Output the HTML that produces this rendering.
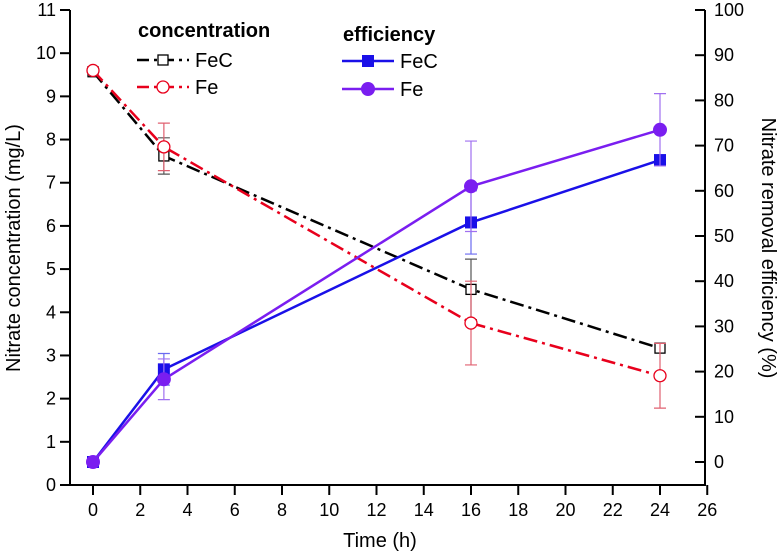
<!DOCTYPE html>
<html><head><meta charset="utf-8"><style>
html,body{margin:0;padding:0;background:#fff;}
svg{display:block;font-family:"Liberation Sans",Arial,sans-serif;}
</style></head><body>
<svg id="chart" width="782" height="558" viewBox="0 0 782 558">
<g id="axes"></g>
<g id="series"></g>
<g id="legend"></g>
</svg>
<script>
const times = [0, 3, 16, 24];
const concFeC = [9.57, 7.62, 4.53, 3.17];
const concFeCErr = [0.05, 0.42, 0.7, 0.05];
const concFe = [9.6, 7.83, 3.75, 2.53];
const concFeErr = [0.05, 0.55, 0.97, 0.75];
const effFeC = [0, 20.5, 53, 66.8];
const effFeCErr = [0, 3.5, 7, 0.5];
const effFe = [0, 18.3, 61, 73.5];
const effFeErr = [0, 4.5, 10, 8];
const xTicks = [0,2,4,6,8,10,12,14,16,18,20,22,24,26];
const yLeftTicks = [0,1,2,3,4,5,6,7,8,9,10,11];
const yRightTicks = [0,10,20,30,40,50,60,70,80,90,100];

const NS = "http://www.w3.org/2000/svg";
const X0 = 70, X1 = 705, YB = 485, YT = 10;
const xS = t => 93 + t * (660 - 93) / 24;
const yL = v => YB - v * (YB - YT) / 11;
const yR = v => 462 - v * (462 - 10) / 100;
function el(tag, attrs, parent, text) {
  const e = document.createElementNS(NS, tag);
  for (const k in attrs) e.setAttribute(k, attrs[k]);
  if (text !== undefined) e.textContent = text;
  parent.appendChild(e);
  return e;
}
const axes = document.getElementById('axes');
const series = document.getElementById('series');
const legend = document.getElementById('legend');

let a = el('path', {d:`M${X0} ${YT}V${YB}H${X1}V${YT}`, fill:'none', stroke:'#000', 'stroke-width':2}, axes);


xTicks.forEach(t => {
  el('line', {x1:xS(t), x2:xS(t), y1:YB, y2:YB+10, stroke:'#000', 'stroke-width':2}, axes);
  const tx = el('text', {x:xS(t), y:YB+31, 'font-size':18, 'text-anchor':'middle'}, axes, t);
  
  
});
yLeftTicks.forEach(v => {
  el('line', {x1:X0-10, x2:X0, y1:yL(v), y2:yL(v), stroke:'#000', 'stroke-width':2}, axes);
  const tx = el('text', {x:X0-14, y:yL(v)+6, 'font-size':18, 'text-anchor':'end'}, axes, v);
  
  
});
yRightTicks.forEach(v => {
  el('line', {x1:X1-10, x2:X1, y1:yR(v), y2:yR(v), stroke:'#000', 'stroke-width':2}, axes);
  const tx = el('text', {x:X1+9, y:yR(v)+6, 'font-size':18}, axes, v);
  
  
});
let t1 = el('text', {x:380, y:547, 'font-size':20, 'text-anchor':'middle'}, axes, 'Time (h)');


let t2 = el('text', {x:0, y:0, 'font-size':20, 'text-anchor':'middle', transform:'translate(20,248) rotate(-90)'}, axes, 'Nitrate concentration (mg/L)');


let t3 = el('text', {x:0, y:0, 'font-size':20, 'text-anchor':'middle', transform:'translate(762,248) rotate(90)'}, axes, 'Nitrate removal efficiency (%)');



function marker(type, x, y, color, parent) {
  if (type === 'sqo') return el('rect', {x:x-5, y:y-5, width:10, height:10, fill:'#fff', stroke:color, 'stroke-width':1.3}, parent);
  if (type === 'cio') return el('circle', {cx:x, cy:y, r:6, fill:'#fff', stroke:color, 'stroke-width':1.3}, parent);
  if (type === 'sqf') return el('rect', {x:x-6, y:y-6, width:12, height:12, fill:color}, parent);
  return el('circle', {cx:x, cy:y, r:7, fill:color}, parent);
}
function drawSeries(name, vals, errs, yf, color, dash, mk, errColor) {
  const g = el('g', {}, series);
  
  
  vals.forEach((v, i) => {
    if (errs[i] > 0.1) {
      const x = xS(times[i]), y1 = yf(v - errs[i]), y2 = yf(v + errs[i]);
      el('path', {d:`M${x} ${y1}V${y2}M${x-6} ${y1}H${x+6}M${x-6} ${y2}H${x+6}`, stroke:errColor, 'stroke-width':1.2, fill:'none'}, g);
    }
  });
  const pts = vals.map((v, i) => `${xS(times[i])},${yf(v)}`).join(' ');
  const attrs = {points:pts, fill:'none', stroke:color, 'stroke-width':2.5};
  if (dash) attrs['stroke-dasharray'] = dash;
  el('polyline', attrs, g);
  vals.forEach((v, i) => {
    const m = marker(mk, xS(times[i]), yf(v), color, g);
    
    
  });
}
drawSeries('conc-fec-series', concFeC, concFeCErr, yL, '#000', '14 5 3 5', 'sqo', '#555');
drawSeries('conc-fe-series', concFe, concFeErr, yL, '#e8001c', '14 5 3 5', 'cio', '#e06070');
drawSeries('eff-fec-series', effFeC, effFeCErr, yR, '#1a10e8', null, 'sqf', '#6a6af0');
drawSeries('eff-fe-series', effFe, effFeErr, yR, '#7a1ef0', null, 'cif', '#a070f0');

function legEntry(name, x, y, color, dash, mk, label) {
  const g = el('g', {}, legend);
  
  
  const la = {x1:x, x2:x+52, y1:y, y2:y, stroke:color, 'stroke-width':2.5};
  if (dash) la['stroke-dasharray'] = '12 5 3 5';
  el('line', la, g);
  marker(mk, x+26, y, color, g);
  el('text', {x:x+58, y:y+7, 'font-size':20}, g, label);
}
let h1 = el('text', {x:138, y:37, 'font-size':20, 'font-weight':'bold'}, legend, 'concentration');


let h2 = el('text', {x:343, y:41, 'font-size':20, 'font-weight':'bold'}, legend, 'efficiency');


legEntry('legend-conc-fec', 137, 60, '#000', true, 'sqo', 'FeC');
legEntry('legend-conc-fe', 137, 87, '#e8001c', true, 'cio', 'Fe');
legEntry('legend-eff-fec', 342, 61, '#1a10e8', false, 'sqf', 'FeC');
legEntry('legend-eff-fe', 342, 89, '#7a1ef0', false, 'cif', 'Fe');
</script>
</body></html>
